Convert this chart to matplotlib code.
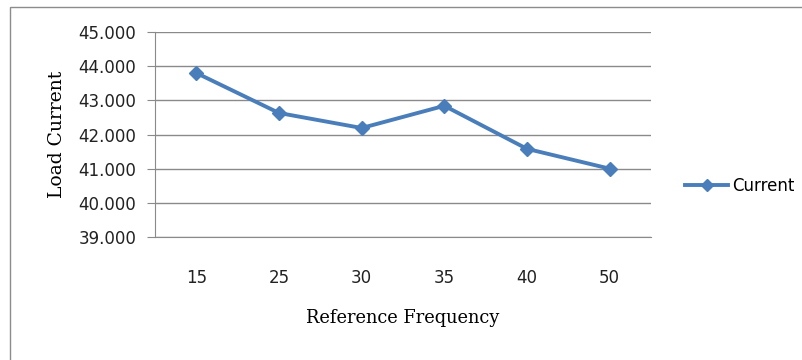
import matplotlib
matplotlib.use("Agg")
import matplotlib.pyplot as plt
from matplotlib.patches import Rectangle

# Dados
frequencias = ["15", "25", "30", "35", "40", "50"]
corrente = [43.80, 42.63, 42.19, 42.84, 41.58, 41.00]
y_ticks = [39, 40, 41, 42, 43, 44, 45]

W, H = 802, 360
fig = plt.figure(figsize=(W / 100, H / 100), dpi=100)
fig.patch.set_facecolor("white")

# moldura externa do gráfico
fig.patches.append(Rectangle((10 / W, -0.05), 1.0, 1 - 7 / H + 0.05,
                             transform=fig.transFigure, fill=False,
                             edgecolor="#8c8c8c", linewidth=1.0))

# área de plotagem (pixels -> fração)
left, right, top, bottom = 155, 651, 32, 237
ax = fig.add_axes([left / W, 1 - bottom / H, (right - left) / W, (bottom - top) / H])

x = list(range(len(frequencias)))
ax.plot(x, corrente, color="#4a7ebb", linewidth=2.8, marker="D",
        markersize=7.5, markerfacecolor="#4a7ebb", markeredgecolor="#4a7ebb",
        label="Current")

ax.set_xlim(-0.5, len(frequencias) - 0.5)
ax.set_ylim(39, 45)
ax.set_yticks(y_ticks)
ax.set_yticklabels([f"{v:.3f}" for v in y_ticks])
ax.set_xticks(x)
ax.set_xticklabels(frequencias)

ax.grid(axis="y", color="#8a8a8a", linewidth=1.0)
ax.set_axisbelow(True)
for s in ["top", "right"]:
    ax.spines[s].set_visible(False)
ax.spines["left"].set_color("#8a8a8a")
ax.spines["bottom"].set_color("#8a8a8a")
ax.tick_params(axis="y", length=6, color="#8a8a8a", labelsize=12, pad=7.5)
ax.tick_params(axis="x", length=0, labelsize=12, pad=23)
for lbl in ax.get_xticklabels() + ax.get_yticklabels():
    lbl.set_fontfamily("DejaVu Sans")
    lbl.set_color("#222222")

ax.set_xlabel("Reference Frequency", fontfamily="DejaVu Serif", fontsize=12.8, labelpad=16)
ax.set_ylabel("Load Current", fontfamily="DejaVu Serif", fontsize=13.5, labelpad=9)

leg = fig.legend(loc="center left", bbox_to_anchor=(670 / W, 1 - 186 / H),
                 frameon=False, handlelength=2.6, handletextpad=0.2,
                 markerscale=0.8,
                 prop={"family": "DejaVu Sans", "size": 12})

fig.savefig("out.png", dpi=100)
